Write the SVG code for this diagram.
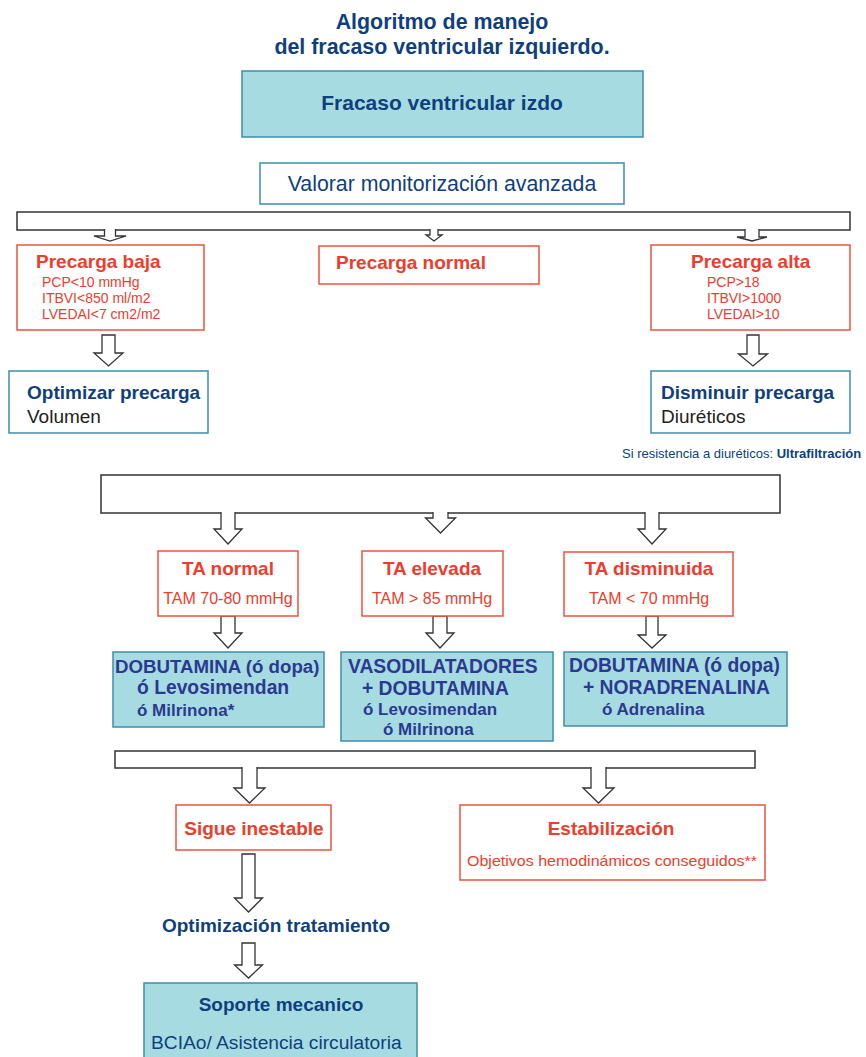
<svg xmlns="http://www.w3.org/2000/svg" width="866" height="1057" viewBox="0 0 866 1057">
<style>
text{font-family:"Liberation Sans",Arial,sans-serif}
.title{font-size:21.4px;font-weight:bold;fill:#0f3f7d}
.teal{fill:#a6dce1;stroke:#3f8dad;stroke-width:1.5}
.wb{fill:#fff;stroke:#3f8dad;stroke-width:1.5}
.rb{fill:#fff;stroke:#f0513c;stroke-width:1.5}
.bar{fill:#fff;stroke:#333;stroke-width:1.5}
.arr{fill:#fff;stroke:#333;stroke-width:1.3;stroke-linejoin:miter}
.rh{font-size:19px;font-weight:bold;fill:#ee3d2c}
.rs{font-size:14px;fill:#ee3d2c}
.rm{font-size:16px;fill:#ee3d2c}
.bh{font-size:19px;font-weight:bold;fill:#0f3f7d}
.bk{font-size:19px;fill:#222}
.dh{font-size:19.3px;font-weight:bold;fill:#2b3990}
.ds{font-size:17px;font-weight:bold;fill:#2b3990}
.mid{text-anchor:middle}
</style>
<g id="title">
<text class="title mid" x="442" y="29">Algoritmo de manejo</text>
<text class="title mid" x="442" y="54">del fracaso ventricular izquierdo.</text>
</g>
<g id="fracaso">
<rect class="teal" x="242" y="71" width="401" height="66"/>
<text class="mid" x="442" y="110" style="font-size:21px;font-weight:bold;fill:#0f3f7d">Fracaso ventricular izdo</text>
</g>
<g id="valorar">
<rect class="wb" x="260" y="163" width="364" height="41"/>
<text class="mid" x="442" y="191" style="font-size:21.3px;fill:#0f3f7d">Valorar monitorización avanzada</text>
</g>
<g id="bars">
<rect class="bar" x="17" y="212" width="833" height="18"/>
<rect class="bar" x="101" y="475" width="679" height="38"/>
<rect class="bar" x="115" y="751" width="640" height="17"/>
</g>
<g id="connectors">
<path class="arr" d="M104.5,229 V236 H94 L110,241 L126,236 H115.5 V229"/>
<path class="arr" d="M430,229 V235 H426 L434,241 L442,235 H438 V229"/>
<path class="arr" d="M745,229 V237 H737 L752,241 L767,237 H759 V229"/>
<path class="arr" d="M102,335 V353 H94 L108.5,366 L123,353 H115 V335 Z"/>
<path class="arr" d="M747,335 V354 H738.5 L753,366 L767.5,354 H759 V335 Z"/>
<path class="arr" d="M221,512 V529 H214 L228,544 L242,529 H235 V512"/>
<path class="arr" d="M433,512 V518 H425.5 L440.5,533 L455.5,518 H448 V512"/>
<path class="arr" d="M645,512 V529 H638 L652,544 L666,529 H659 V512"/>
<path class="arr" d="M221,616 V633 H214 L228,648 L242,633 H235 V616 Z"/>
<path class="arr" d="M433,616 V633 H426 L440,648 L454,633 H447 V616 Z"/>
<path class="arr" d="M646,616 V635 H638 L652,648 L666,635 H658 V616 Z"/>
<path class="arr" d="M242,767 V788 H234 L249.5,803 L265,788 H257 V767"/>
<path class="arr" d="M591,767 V788 H583 L598.5,803 L614,788 H606 V767"/>
<path class="arr" d="M242,854 V898 H234.5 L248.5,912 L262.5,898 H255 V854 Z"/>
<path class="arr" d="M242,943 V965 H234.5 L248.5,978 L262.5,965 H255 V943 Z"/>
</g>
<g id="precarga-baja">
<rect class="rb" x="17" y="245" width="187" height="85"/>
<text class="rh" x="36" y="268">Precarga baja</text>
<text class="rs" x="42" y="287">PCP&lt;10 mmHg</text>
<text class="rs" x="42" y="303">ITBVI&lt;850 ml/m2</text>
<text class="rs" x="42" y="319">LVEDAI&lt;7 cm2/m2</text>
</g>
<g id="precarga-normal">
<rect class="rb" x="319" y="246" width="220" height="38"/>
<text class="rh" x="336" y="269">Precarga normal</text>
</g>
<g id="precarga-alta">
<rect class="rb" x="651" y="245" width="199" height="85"/>
<text class="rh" x="691" y="268">Precarga alta</text>
<text class="rs" x="707" y="287">PCP&gt;18</text>
<text class="rs" x="707" y="303">ITBVI&gt;1000</text>
<text class="rs" x="707" y="319">LVEDAI&gt;10</text>
</g>
<g id="optimizar">
<rect class="wb" x="9" y="371" width="199" height="62"/>
<text class="bh" x="27" y="399">Optimizar precarga</text>
<text class="bk" x="27" y="423">Volumen</text>
</g>
<g id="disminuir">
<rect class="wb" x="651" y="371" width="199" height="62"/>
<text class="bh" x="661" y="399">Disminuir precarga</text>
<text class="bk" x="661" y="423">Diuréticos</text>
</g>
<g id="ultrafiltracion">
<text x="622" y="458" style="font-size:13px;fill:#0f3f7d">Si resistencia a diuréticos: <tspan font-weight="bold">Ultrafiltración</tspan></text>
</g>
<g id="ta-normal">
<rect class="rb" x="158" y="551" width="140" height="65"/>
<text class="rh mid" x="228" y="575">TA normal</text>
<text class="rm mid" x="228" y="604">TAM 70-80 mmHg</text>
</g>
<g id="ta-elevada">
<rect class="rb" x="362" y="551" width="141" height="65"/>
<text class="rh mid" x="432" y="575">TA elevada</text>
<text class="rm mid" x="432" y="604">TAM &gt; 85 mmHg</text>
</g>
<g id="ta-disminuida">
<rect class="rb" x="564" y="552" width="169" height="64"/>
<text class="rh mid" x="649" y="575">TA disminuida</text>
<text class="rm mid" x="649" y="604">TAM &lt; 70 mmHg</text>
</g>
<g id="drugs-normal">
<rect class="teal" x="113" y="652" width="211" height="75"/>
<text class="dh" x="115" y="673" style="font-size:18.7px">DOBUTAMINA (ó dopa)</text>
<text class="dh" x="137" y="694">ó Levosimendan</text>
<text class="ds" x="137" y="716">ó Milrinona*</text>
</g>
<g id="drugs-elevada">
<rect class="teal" x="341" y="652" width="212" height="89"/>
<text class="dh" x="348" y="673">VASODILATADORES</text>
<text class="dh" x="362" y="695">+ DOBUTAMINA</text>
<text class="ds" x="363" y="715">ó Levosimendan</text>
<text class="ds" x="383" y="735">ó Milrinona</text>
</g>
<g id="drugs-disminuida">
<rect class="teal" x="564" y="652" width="223" height="74"/>
<text class="dh" x="569" y="672">DOBUTAMINA (ó dopa)</text>
<text class="dh" x="583" y="694">+ NORADRENALINA</text>
<text class="ds" x="602" y="715">ó Adrenalina</text>
</g>
<g id="sigue-inestable">
<rect class="rb" x="176" y="805" width="155" height="45"/>
<text class="rh mid" x="254" y="835">Sigue inestable</text>
</g>
<g id="estabilizacion">
<rect class="rb" x="460" y="805" width="305" height="75"/>
<text class="rh mid" x="611" y="835">Estabilización</text>
<text class="rs mid" x="612" y="866" textLength="290" lengthAdjust="spacingAndGlyphs" style="font-size:14.5px">Objetivos hemodinámicos conseguidos**</text>
</g>
<g id="optimizacion">
<text class="bh mid" x="276" y="932">Optimización tratamiento</text>
</g>
<g id="soporte">
<rect class="teal" x="144" y="983" width="273" height="80"/>
<text class="bh mid" x="281" y="1011">Soporte mecanico</text>
<text x="151" y="1049" style="font-size:19.2px;fill:#0f3f7d">BCIAo/ Asistencia circulatoria</text>
</g>
</svg>
